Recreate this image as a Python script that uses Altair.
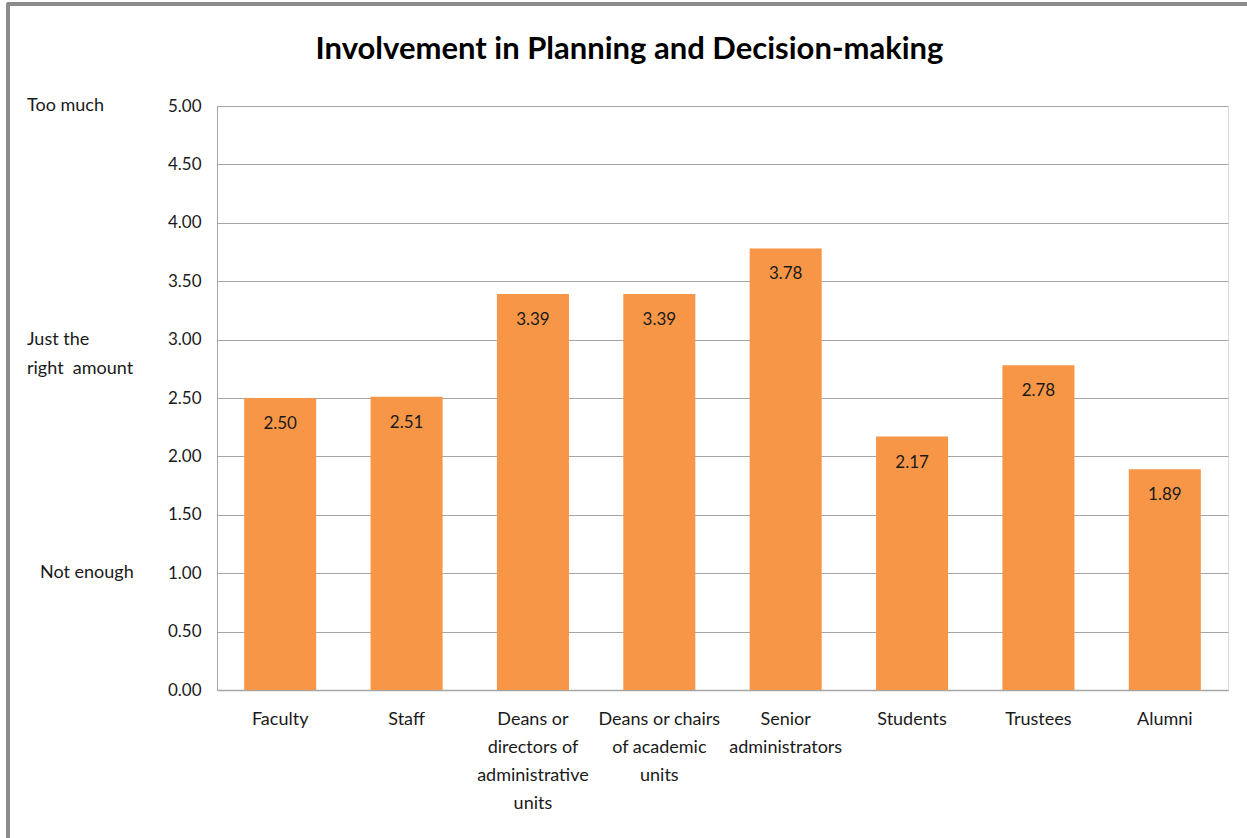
import json
import altair as alt
import pandas as pd

categories = [
    "Faculty",
    "Staff",
    "Deans or directors of administrative units",
    "Deans or chairs of academic units",
    "Senior administrators",
    "Students",
    "Trustees",
    "Alumni",
]
label_lines = [
    ["Faculty"],
    ["Staff"],
    ["Deans or", "directors of", "administrative", "units"],
    ["Deans or chairs", "of academic", "units"],
    ["Senior", "administrators"],
    ["Students"],
    ["Trustees"],
    ["Alumni"],
]
values = [2.50, 2.51, 3.39, 3.39, 3.78, 2.17, 2.78, 1.89]

side_text = [["Too much"], ["Just the", "right\u00a0\u00a0amount"], ["Not enough"]]
side_y = [5.0, 3.0, 1.0]
side_dx = [0, 0, 13]
side_dy = [0, -13, 3]

title = "Involvement in Planning and Decision-making"

FONT = "Lato"
ORANGE = "#F79646"

df = pd.DataFrame({"cat": categories, "val": values,
                   "lab": [f"{v:.2f}" for v in values]})
side_df = pd.DataFrame({"txt": side_text, "y": side_y, "dx": side_dx, "dy": side_dy})

wrap = {c: l for c, l in zip(categories, label_lines)}
label_expr = json.dumps(wrap) + "[datum.value]"

x_enc = alt.X("cat:N", sort=categories, title=None,
              scale=alt.Scale(paddingInner=0.43, paddingOuter=0.215),
              axis=alt.Axis(labelExpr=label_expr, labelAngle=0, labelFont=FONT,
                            labelFontSize=18, labelColor="#1a1a1a",
                            labelPadding=20, labelLineHeight=28, ticks=False,
                            domainColor="#a6a6a6", domainWidth=1.5,
                            labelBaseline="top"))
y_enc = alt.Y("val:Q", title=None,
              scale=alt.Scale(domain=[0, 5], nice=False),
              axis=alt.Axis(values=[0, 0.5, 1, 1.5, 2, 2.5, 3, 3.5, 4, 4.5, 5],
                            format=".2f", labelFont=FONT, labelFontSize=17,
                            labelColor="#1a1a1a", labelPadding=16, ticks=False,
                            grid=True, gridColor="#a6a6a6", gridWidth=1,
                            domainColor="#a6a6a6", domainWidth=1))

bars = alt.Chart(df).mark_bar(color=ORANGE).encode(x=x_enc, y=y_enc)

labels = alt.Chart(df).mark_text(font=FONT, fontSize=17, color="#1a1a1a",
                                 baseline="middle", dy=26).encode(
    x=alt.X("cat:N", sort=categories),
    y=alt.Y("val:Q"),
    text="lab:N",
)

side = alt.Chart(side_df).mark_text(font=FONT, fontSize=18, color="#1a1a1a",
                                    align="left", baseline="middle",
                                    lineHeight=29).encode(
    x=alt.value(-190),
    xOffset=alt.XOffset("dx:Q", scale=None),
    y=alt.Y("y:Q"),
    yOffset=alt.YOffset("dy:Q", scale=None),
    text="txt:N",
)

frame_top = alt.Chart(df).mark_rule(color="#8c8c8c", strokeWidth=3).encode(
    x=alt.value(-210), x2=alt.value(1100), y=alt.value(-102))
frame_left = alt.Chart(df).mark_rule(color="#8c8c8c", strokeWidth=3).encode(
    x=alt.value(-209), y=alt.value(-103), y2=alt.value(800))

chart = alt.layer(bars, labels, side, frame_top, frame_left).properties(
    width=1011, height=584,
    padding={"left": 217, "top": 106, "right": 19, "bottom": 148},
    autosize=alt.AutoSizeParams(type="none"),
    title=alt.Title(title, font=FONT, fontSize=31, fontWeight="bold",
                    color="#000000", anchor="middle", frame="group",
                    dx=-93, offset=-64),
).configure_view(stroke=None).configure(background="white")

chart.save("out.html", embed_options={"renderer": "svg", "actions": False})
